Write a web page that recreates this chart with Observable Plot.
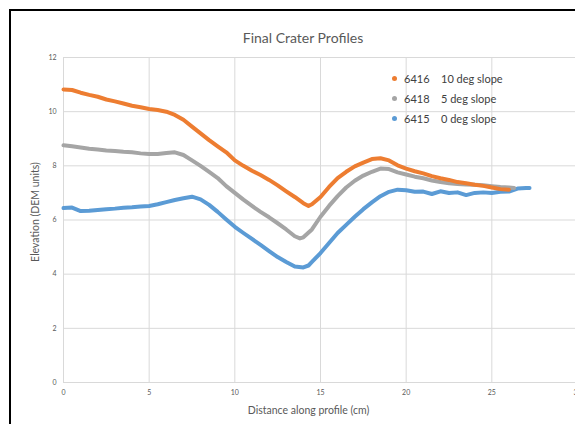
<!DOCTYPE html>
<html><head><meta charset="utf-8">
<script src="https://cdn.jsdelivr.net/npm/d3@7"></script>
<script src="https://cdn.jsdelivr.net/npm/@observablehq/plot@0.6"></script>
<style>
html,body{margin:0;padding:0;background:#fff;overflow:hidden;width:575px;height:424px;}
#wrap{position:relative;width:575px;height:424px;overflow:hidden;font-family:Lato,"Open Sans",sans-serif;color:#595959;}
#border{position:absolute;left:9px;top:9px;width:700px;height:600px;border-left:2px solid #000;border-top:2px solid #000;}
#chart{position:absolute;left:0;top:0;width:600px;height:424px;}
#chart svg{max-width:none !important;width:600px;height:424px;}
#title{position:absolute;left:0;width:606px;top:29px;text-align:center;font-size:14px;color:#595959;}
#xlabel{position:absolute;left:0;width:617px;top:404px;text-align:center;font-size:10.5px;color:#595959;}
#ylabel{position:absolute;left:35px;top:212px;transform:translate(-50%,-50%) rotate(-90deg);white-space:nowrap;font-size:10.5px;color:#595959;}
#legend{position:absolute;left:392px;top:68px;font-size:11px;color:#404040;}
#legend .row{display:flex;align-items:center;height:20.3px;}
#legend .dot{width:5px;height:5px;border-radius:50%;margin-right:7px;}
#legend .code{width:37px;}
</style></head>
<body><div id="wrap"><div id="border"></div><div id="chart"></div>
<div id="title">Final Crater Profiles</div>
<div id="ylabel">Elevation (DEM units)</div>
<div id="xlabel">Distance along profile (cm)</div>
<div id="legend"></div></div>
<script>
const xTicks = [0,5,10,15,20,25,30];
const yTicks = [0,2,4,6,8,10,12];
const seriesCodes = ["6416","6418","6415"];
const seriesNames = ["10 deg slope","5 deg slope","0 deg slope"];
const seriesColors = ["#ED7D31","#A5A5A5","#5B9BD5"];

const x6416 = [0,0.5,1,1.5,2,2.5,3,3.5,4,4.5,5,5.5,6,6.5,7,7.5,8,8.5,9,9.5,10,10.5,11,11.5,12,12.5,13,13.5,14,14.3,14.5,15,15.5,16,16.5,17,17.5,18,18.5,19,19.5,20,20.5,21,21.5,22,22.5,23,23.5,24,24.5,25,25.5,26];
const y6416 = [10.82,10.80,10.70,10.62,10.55,10.45,10.38,10.30,10.22,10.16,10.10,10.06,10.00,9.88,9.70,9.45,9.20,8.95,8.72,8.50,8.20,8.00,7.82,7.66,7.48,7.28,7.06,6.85,6.62,6.52,6.58,6.85,7.22,7.55,7.78,7.98,8.12,8.25,8.28,8.20,8.02,7.90,7.80,7.72,7.62,7.54,7.48,7.40,7.36,7.30,7.26,7.20,7.14,7.12];

const x6418 = [0,0.5,1,1.5,2,2.5,3,3.5,4,4.5,5,5.5,6,6.5,7,7.5,8,8.5,9,9.5,10,10.5,11,11.5,12,12.5,13,13.5,13.8,14,14.5,15,15.5,16,16.5,17,17.5,18,18.5,19,19.5,20,20.5,21,21.5,22,22.5,23,23.5,24,24.5,25,25.5,26,26.3];
const y6418 = [8.76,8.72,8.68,8.63,8.60,8.57,8.55,8.52,8.50,8.46,8.44,8.44,8.47,8.50,8.40,8.20,8.00,7.78,7.55,7.25,7.00,6.75,6.52,6.30,6.10,5.88,5.65,5.40,5.32,5.36,5.65,6.12,6.52,6.88,7.20,7.45,7.64,7.78,7.90,7.88,7.76,7.68,7.60,7.54,7.46,7.40,7.36,7.33,7.31,7.30,7.28,7.25,7.22,7.20,7.18];

const x6415 = [0,0.5,1,1.5,2,2.5,3,3.5,4,4.5,5,5.5,6,6.5,7,7.5,8,8.5,9,9.5,10,10.5,11,11.5,12,12.5,13,13.5,14,14.3,14.5,15,15.5,16,16.5,17,17.5,18,18.5,19,19.5,20,20.5,21,21.5,22,22.5,23,23.5,24,24.5,25,25.5,26,26.5,27,27.2];
const y6415 = [6.44,6.46,6.33,6.34,6.37,6.40,6.42,6.45,6.47,6.50,6.52,6.58,6.66,6.74,6.80,6.86,6.76,6.56,6.30,6.02,5.75,5.52,5.30,5.08,4.85,4.63,4.45,4.28,4.25,4.32,4.45,4.78,5.15,5.52,5.82,6.12,6.40,6.65,6.88,7.04,7.12,7.10,7.04,7.05,6.96,7.06,7.00,7.02,6.92,7.00,7.02,7.00,7.04,7.05,7.16,7.18,7.18];

const xs = [x6416, x6418, x6415];
const ys = [y6416, y6418, y6415];
const rows = [];
seriesCodes.forEach((code,i)=>{
  xs[i].forEach((xv,j)=>rows.push({series:code, x:xv, y:ys[i][j]}));
});

const chart = Plot.plot({
  width: 600, height: 424,
  marginTop: 57, marginBottom: 42, marginLeft: 63, marginRight: 23,
  style:{fontFamily:"Lato, sans-serif", fontSize:"7px", color:"#595959", background:"transparent", overflow:"visible", maxWidth:"none"},
  x:{domain:[0,30], label:null},
  y:{domain:[0,12], label:null},
  color:{domain:seriesCodes, range:seriesColors},
  marks:[
    Plot.gridX(xTicks,{stroke:"#d9d9d9", strokeOpacity:1}),
    Plot.gridY(yTicks,{stroke:"#d9d9d9", strokeOpacity:1}),
    Plot.axisX(xTicks,{tickSize:0, tickPadding:8, label:null, fill:"#595959"}),
    Plot.axisY(yTicks,{tickSize:0, tickPadding:7, label:null, fill:"#595959"}),
    ...seriesCodes.slice().reverse().map(code =>
      Plot.line(rows.filter(d=>d.series===code),{x:"x", y:"y", stroke:"series", strokeWidth:4, strokeLinejoin:"round", strokeLinecap:"round"}))
  ]
});
document.getElementById("chart").appendChild(chart);

const leg = document.getElementById("legend");
seriesCodes.forEach((c,i)=>{
  const r = document.createElement("div"); r.className="row";
  r.innerHTML = `<span class="dot" style="background:${seriesColors[i]}"></span><span class="code">${c}</span><span>${seriesNames[i]}</span>`;
  leg.appendChild(r);
});
</script></body></html>
